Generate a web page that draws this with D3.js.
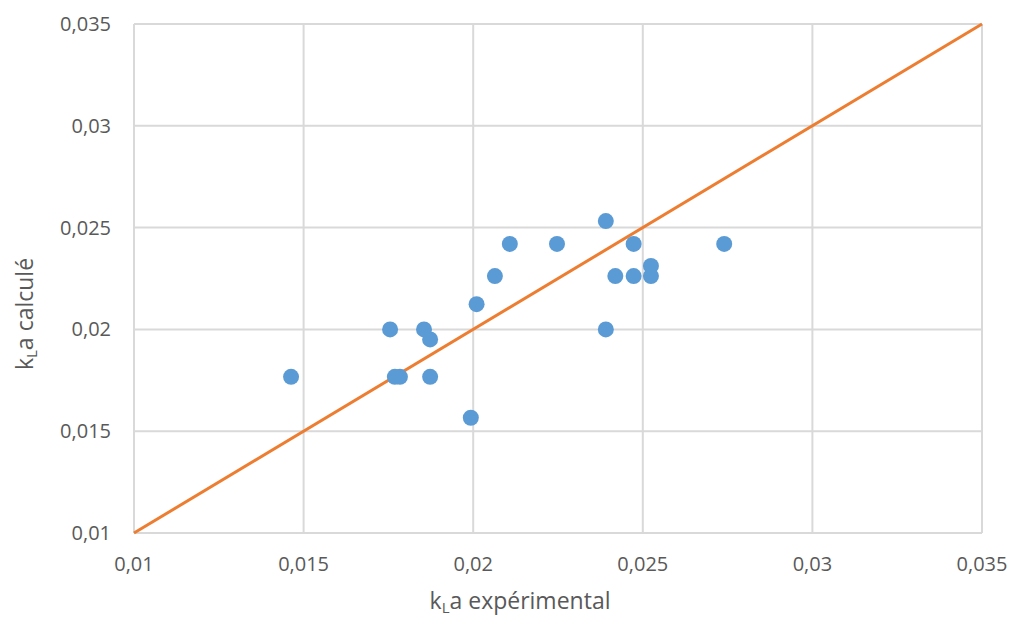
<!DOCTYPE html>
<html><head><meta charset="utf-8">
<script src="https://cdn.jsdelivr.net/npm/d3@7"></script>
<style>body{margin:0;background:#fff}svg{display:block}</style>
</head><body>
<svg id="c" width="1010" height="619"></svg>
<script>
const kLaExp = [0.01463,0.01755,0.01855,0.01873,0.01769,0.01784,0.01873,0.01993,0.0201,0.02064,0.02108,0.02247,0.02391,0.02391,0.02419,0.02473,0.02473,0.02524,0.02524,0.0274];
const kLaCalc = [0.01767,0.0200,0.0200,0.01951,0.01767,0.01767,0.01767,0.01566,0.02124,0.02262,0.0242,0.0242,0.02532,0.0200,0.02262,0.0242,0.02262,0.02312,0.02262,0.0242];
const lineX = [0.01,0.035];
const lineY = [0.01,0.035];
const ticks = [0.01,0.015,0.02,0.025,0.03,0.035];
const tickLabels = ["0,01","0,015","0,02","0,025","0,03","0,035"];

const svg = d3.select("#c");
const x = d3.scaleLinear().domain([0.01,0.035]).range([134,982]);
const y = d3.scaleLinear().domain([0.01,0.035]).range([533,24]);
const font = "'Open Sans', 'Liberation Sans', sans-serif";
const tc = "#595959";

// gridlines
svg.append("g").selectAll("line").data(ticks).join("line")
  .attr("x1",x(0.01)).attr("x2",x(0.035)).attr("y1",d=>y(d)).attr("y2",d=>y(d))
  .attr("stroke","#d9d9d9").attr("stroke-width",2);
svg.append("g").selectAll("line").data(ticks).join("line")
  .attr("y1",y(0.01)).attr("y2",y(0.035)).attr("x1",d=>x(d)).attr("x2",d=>x(d))
  .attr("stroke","#d9d9d9").attr("stroke-width",2);

// y tick labels
svg.append("g").selectAll("text").data(ticks).join("text")
  .attr("x",111).attr("y",d=>y(d)).attr("dy","0.35em").attr("text-anchor","end")
  .attr("font-family",font).attr("font-size",20).attr("fill",tc)
  .text((d,i)=>tickLabels[i]);
// x tick labels
svg.append("g").selectAll("text").data(ticks).join("text")
  .attr("x",d=>x(d)).attr("y",571).attr("text-anchor","middle")
  .attr("font-family",font).attr("font-size",20).attr("fill",tc)
  .text((d,i)=>tickLabels[i]);

// diagonal line
svg.append("path").datum(lineX.map((v,i)=>[v,lineY[i]]))
  .attr("d",d3.line().x(d=>x(d[0])).y(d=>y(d[1])))
  .attr("stroke","#ED7D31").attr("stroke-width",3).attr("fill","none");

// points
svg.append("g").selectAll("circle").data(kLaExp).join("circle")
  .attr("cx",d=>x(d)).attr("cy",(d,i)=>y(kLaCalc[i])).attr("r",8)
  .attr("fill","#5B9BD5");

// axis titles
const xt = svg.append("text").attr("x",520).attr("y",609).attr("text-anchor","middle")
  .attr("font-family",font).attr("font-size",23).attr("fill",tc);
xt.append("tspan").text("k");
xt.append("tspan").attr("font-size",15).attr("dy",4).text("L");
xt.append("tspan").attr("dy",-4).text("a expérimental");

const yt = svg.append("text").attr("transform","translate(33,314) rotate(-90)").attr("text-anchor","middle")
  .attr("font-family",font).attr("font-size",23).attr("fill",tc);
yt.append("tspan").text("k");
yt.append("tspan").attr("font-size",15).attr("dy",4).text("L");
yt.append("tspan").attr("dy",-4).text("a calculé");
</script>
</body></html>
